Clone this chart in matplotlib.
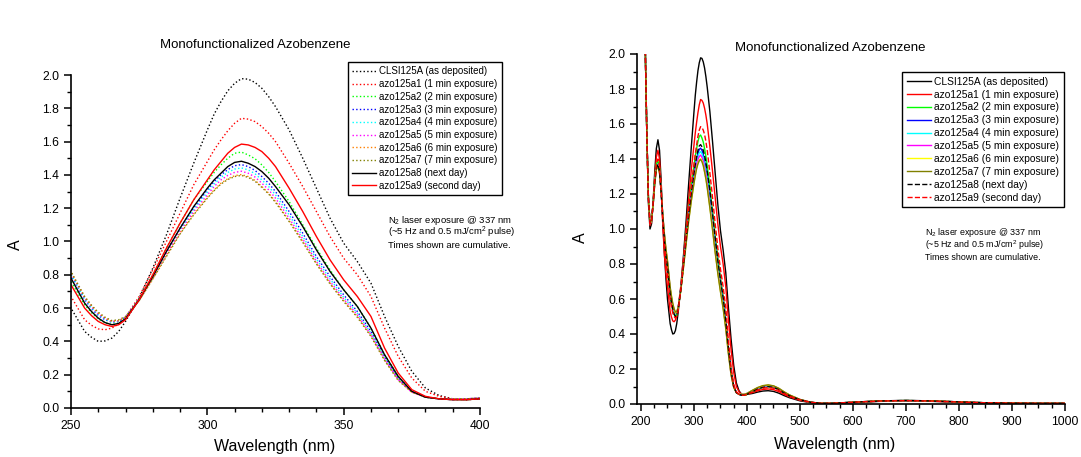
import matplotlib
matplotlib.use('Agg')
import matplotlib.pyplot as plt
from matplotlib.ticker import MultipleLocator

plt.rcParams['font.family'] = ['Liberation Sans', 'DejaVu Sans']
plt.rcParams['mathtext.fontset'] = 'custom'
plt.rcParams['mathtext.rm'] = 'Liberation Sans'
plt.rcParams['mathtext.it'] = 'Liberation Sans'

# wavelength grid (nm)
wl = [205, 208, 211, 214, 217, 220, 223, 226, 229, 232, 235, 238, 241, 244, 247,
      250, 255, 257.5, 260, 262.5, 265, 267.5, 270,
      275, 280, 285, 290, 295, 300,
      302.5, 305, 307.5, 310, 312.5, 315, 317.5, 320, 322.5, 325,
      330, 335, 340, 345, 350, 355, 360, 365, 370, 375, 380, 385, 390, 395, 400,
      410, 420, 430, 440, 450, 460, 470, 480, 500, 520, 540, 560, 600, 650, 700,
      750, 800, 850, 900, 950, 1000]

labels = ['CLSI125A (as deposited)', 'azo125a1 (1 min exposure)', 'azo125a2 (2 min exposure)',
          'azo125a3 (3 min exposure)', 'azo125a4 (4 min exposure)', 'azo125a5 (5 min exposure)',
          'azo125a6 (6 min exposure)', 'azo125a7 (7 min exposure)', 'azo125a8 (next day)',
          'azo125a9 (second day)']

clsi = [2.60, 2.05, 1.55, 1.15, 1.00, 1.03, 1.16, 1.33, 1.46, 1.51, 1.45, 1.28, 1.06, 0.87, 0.72,
        0.60, 0.46, 0.425, 0.40, 0.403, 0.42, 0.46, 0.52,
        0.66, 0.84, 1.04, 1.26, 1.47, 1.67,
        1.765, 1.84, 1.905, 1.95, 1.978, 1.975, 1.955, 1.92, 1.87, 1.81,
        1.67, 1.50, 1.32, 1.14, 0.99, 0.88, 0.75, 0.55, 0.37, 0.22, 0.12, 0.075, 0.055, 0.05, 0.055,
        0.06, 0.068, 0.074, 0.076, 0.072, 0.062, 0.048, 0.036, 0.018, 0.008, 0.003, 0.003, 0.008, 0.015,
        0.018, 0.015, 0.010, 0.006, 0.004, 0.003, 0.003]
a1 = [2.60, 2.05, 1.55, 1.17, 1.02, 1.04, 1.15, 1.30, 1.41, 1.45, 1.40, 1.24, 1.03, 0.86, 0.75,
      0.67, 0.53, 0.497, 0.475, 0.47, 0.48, 0.505, 0.545,
      0.67, 0.83, 1.00, 1.17, 1.34, 1.48,
      1.55, 1.61, 1.665, 1.71, 1.74, 1.735, 1.72, 1.69, 1.65, 1.60,
      1.47, 1.33, 1.18, 1.03, 0.90, 0.80, 0.67, 0.48, 0.31, 0.18, 0.10, 0.07, 0.055, 0.05, 0.055,
      0.065, 0.075, 0.083, 0.086, 0.082, 0.071, 0.055, 0.041, 0.021, 0.009, 0.003, 0.003, 0.009, 0.016,
      0.019, 0.016, 0.011, 0.006, 0.004, 0.003, 0.003]
a2 = [2.60, 2.05, 1.55, 1.18, 1.03, 1.05, 1.15, 1.29, 1.37, 1.39, 1.35, 1.23, 1.08, 0.95, 0.84,
      0.76, 0.62, 0.573, 0.535, 0.512, 0.50, 0.51, 0.54,
      0.655, 0.80, 0.96, 1.11, 1.25, 1.36,
      1.415, 1.46, 1.50, 1.53, 1.537, 1.52, 1.497, 1.46, 1.415, 1.36,
      1.24, 1.10, 0.96, 0.83, 0.71, 0.61, 0.48, 0.32, 0.19, 0.10, 0.065, 0.055, 0.05, 0.05, 0.055,
      0.07, 0.085, 0.096, 0.100, 0.096, 0.083, 0.064, 0.048, 0.024, 0.010, 0.004, 0.004, 0.010, 0.017,
      0.020, 0.017, 0.012, 0.007, 0.005, 0.004, 0.004]
a3 = [2.60, 2.05, 1.55, 1.18, 1.03, 1.05, 1.14, 1.27, 1.35, 1.37, 1.33, 1.22, 1.08, 0.97, 0.87,
      0.80, 0.65, 0.598, 0.555, 0.53, 0.515, 0.52, 0.545,
      0.655, 0.79, 0.94, 1.08, 1.20, 1.31,
      1.36, 1.40, 1.432, 1.455, 1.462, 1.45, 1.427, 1.39, 1.35, 1.30,
      1.18, 1.05, 0.91, 0.79, 0.68, 0.58, 0.46, 0.31, 0.18, 0.10, 0.065, 0.055, 0.05, 0.055, 0.06,
      0.075, 0.09, 0.10, 0.105, 0.10, 0.086, 0.066, 0.05, 0.025, 0.01, 0.004, 0.004, 0.01, 0.018,
      0.02, 0.018, 0.012, 0.007, 0.005, 0.004, 0.004]
a4 = [2.60, 2.05, 1.55, 1.18, 1.03, 1.05, 1.14, 1.27, 1.35, 1.37, 1.33, 1.22, 1.08, 0.97, 0.875,
      0.805, 0.655, 0.603, 0.56, 0.533, 0.515, 0.521, 0.545,
      0.65, 0.785, 0.93, 1.07, 1.19, 1.295,
      1.345, 1.385, 1.415, 1.435, 1.442, 1.43, 1.407, 1.37, 1.33, 1.28,
      1.16, 1.03, 0.895, 0.775, 0.665, 0.57, 0.45, 0.30, 0.175, 0.10, 0.065, 0.055, 0.055, 0.055, 0.06,
      0.075, 0.09, 0.10, 0.106, 0.10, 0.087, 0.067, 0.05, 0.025, 0.01, 0.004, 0.004, 0.01, 0.018,
      0.02, 0.018, 0.012, 0.007, 0.005, 0.004, 0.004]
a5 = [2.60, 2.05, 1.55, 1.18, 1.03, 1.05, 1.14, 1.26, 1.34, 1.36, 1.32, 1.22, 1.08, 0.97, 0.88,
      0.81, 0.66, 0.608, 0.565, 0.538, 0.52, 0.524, 0.545,
      0.65, 0.78, 0.925, 1.06, 1.18, 1.28,
      1.33, 1.37, 1.397, 1.415, 1.422, 1.41, 1.387, 1.35, 1.31, 1.26,
      1.14, 1.015, 0.88, 0.76, 0.655, 0.56, 0.44, 0.295, 0.17, 0.095, 0.065, 0.055, 0.055, 0.055, 0.06,
      0.076, 0.092, 0.102, 0.107, 0.102, 0.088, 0.068, 0.051, 0.026, 0.01, 0.004, 0.004, 0.01, 0.018,
      0.02, 0.018, 0.012, 0.007, 0.005, 0.004, 0.004]
a6 = [2.60, 2.05, 1.55, 1.18, 1.03, 1.05, 1.14, 1.26, 1.34, 1.36, 1.32, 1.22, 1.08, 0.975, 0.885,
      0.815, 0.665, 0.613, 0.57, 0.54, 0.52, 0.525, 0.545,
      0.645, 0.775, 0.915, 1.05, 1.165, 1.265,
      1.31, 1.35, 1.377, 1.395, 1.402, 1.39, 1.367, 1.33, 1.29, 1.24,
      1.125, 1.00, 0.87, 0.75, 0.645, 0.55, 0.435, 0.29, 0.17, 0.095, 0.065, 0.055, 0.055, 0.055, 0.06,
      0.077, 0.093, 0.104, 0.108, 0.103, 0.089, 0.069, 0.052, 0.026, 0.01, 0.004, 0.004, 0.01, 0.018,
      0.02, 0.018, 0.012, 0.007, 0.005, 0.004, 0.004]
a7 = [2.60, 2.05, 1.55, 1.18, 1.03, 1.05, 1.14, 1.26, 1.34, 1.36, 1.32, 1.22, 1.09, 0.98, 0.89,
      0.82, 0.67, 0.618, 0.575, 0.545, 0.525, 0.53, 0.55,
      0.645, 0.775, 0.91, 1.045, 1.16, 1.26,
      1.305, 1.345, 1.372, 1.39, 1.397, 1.385, 1.362, 1.325, 1.285, 1.235,
      1.12, 0.995, 0.865, 0.745, 0.64, 0.545, 0.43, 0.285, 0.165, 0.095, 0.065, 0.055, 0.055, 0.055, 0.06,
      0.078, 0.094, 0.105, 0.109, 0.104, 0.09, 0.07, 0.052, 0.026, 0.01, 0.004, 0.004, 0.01, 0.018,
      0.02, 0.018, 0.012, 0.007, 0.005, 0.004, 0.004]
a8 = [2.60, 2.05, 1.55, 1.18, 1.03, 1.05, 1.15, 1.27, 1.35, 1.37, 1.33, 1.21, 1.06, 0.94, 0.85,
      0.78, 0.63, 0.58, 0.54, 0.513, 0.50, 0.508, 0.535,
      0.65, 0.79, 0.94, 1.08, 1.21, 1.32,
      1.37, 1.41, 1.45, 1.475, 1.482, 1.47, 1.45, 1.42, 1.38, 1.33,
      1.22, 1.09, 0.95, 0.82, 0.71, 0.61, 0.48, 0.32, 0.19, 0.10, 0.065, 0.055, 0.05, 0.05, 0.055,
      0.07, 0.085, 0.095, 0.099, 0.095, 0.082, 0.063, 0.047, 0.024, 0.01, 0.004, 0.004, 0.01, 0.017,
      0.02, 0.017, 0.012, 0.007, 0.005, 0.004, 0.004]
a9 = [2.60, 2.05, 1.55, 1.18, 1.03, 1.05, 1.15, 1.28, 1.37, 1.40, 1.36, 1.23, 1.06, 0.92, 0.82,
      0.74, 0.60, 0.555, 0.52, 0.50, 0.49, 0.50, 0.53,
      0.65, 0.80, 0.96, 1.11, 1.25, 1.37,
      1.43, 1.48, 1.53, 1.565, 1.585, 1.58, 1.565, 1.54, 1.50, 1.45,
      1.32, 1.18, 1.03, 0.89, 0.77, 0.67, 0.55, 0.36, 0.21, 0.11, 0.07, 0.055, 0.05, 0.05, 0.055,
      0.068, 0.08, 0.09, 0.094, 0.09, 0.078, 0.06, 0.045, 0.023, 0.01, 0.004, 0.004, 0.01, 0.017,
      0.019, 0.017, 0.011, 0.007, 0.005, 0.004, 0.004]

spectra = [clsi, a1, a2, a3, a4, a5, a6, a7, a8, a9]

left_colors = ['black', '#ff0000', '#00ff00', '#0000ff', '#00ffff', '#ff00ff', '#ff8000', '#808000',
               'black', '#ff0000']
left_styles = [':', ':', ':', ':', ':', ':', ':', ':', '-', '-']
right_colors = ['black', '#ff0000', '#00ff00', '#0000ff', '#00ffff', '#ff00ff', '#ffff00', '#808000',
                'black', '#ff0000']
right_styles = ['-', '-', '-', '-', '-', '-', '-', '-', '--', '--']

W, H = 1081, 457
fig = plt.figure(figsize=(W / 100, H / 100), dpi=100)
ax1 = fig.add_axes([71 / W, 1 - 408 / H, (480 - 71) / W, (408 - 75) / H])
ax2 = fig.add_axes([637 / W, 1 - 404 / H, (1065 - 637) / W, (404 - 54) / H])


def style_axis(ax):
    for s in ['top', 'right']:
        ax.spines[s].set_visible(False)
    for s in ['left', 'bottom']:
        ax.spines[s].set_linewidth(1.2)
    ax.tick_params(which='major', direction='out', length=5, width=1.1, labelsize=8.7)
    ax.tick_params(which='minor', direction='out', length=3, width=1.0)
    ax.set_ylim(0, 2.0)
    ax.yaxis.set_major_locator(MultipleLocator(0.2))
    ax.yaxis.set_minor_locator(MultipleLocator(0.1))
    ax.yaxis.set_major_formatter(plt.FuncFormatter(lambda v, p: f'{v:.1f}'))


# left panel: zoom on the main band
for y, c, ls, lab in zip(spectra, left_colors, left_styles, labels):
    ax1.plot(wl, y, color=c, linestyle=ls, lw=1.0, label=lab)
style_axis(ax1)
ax1.set_xlim(250, 400)
ax1.xaxis.set_major_locator(MultipleLocator(50))
ax1.xaxis.set_minor_locator(MultipleLocator(10))

# right panel: full range
for y, c, ls, lab in zip(spectra, right_colors, right_styles, labels):
    ax2.plot(wl, y, color=c, linestyle=ls, lw=1.0, label=lab)
style_axis(ax2)
ax2.set_xlim(192.5, 1000)
ax2.xaxis.set_major_locator(MultipleLocator(100))
ax2.xaxis.set_minor_locator(MultipleLocator(25))

leg1 = ax1.legend(loc='upper left', bbox_to_anchor=(348 / W, 1 - 62 / H), bbox_transform=fig.transFigure,
                  fontsize=7, fancybox=False, framealpha=1, edgecolor='black', borderaxespad=0,
                  handlelength=2.4, handletextpad=0.3, labelspacing=0.28, borderpad=0.45)
leg1.get_frame().set_linewidth(1.0)
leg2 = ax2.legend(loc='upper left', bbox_to_anchor=(902 / W, 1 - 72 / H), bbox_transform=fig.transFigure,
                  fontsize=7.4, fancybox=False, framealpha=1, edgecolor='black', borderaxespad=0,
                  handlelength=2.4, handletextpad=0.3, labelspacing=0.28, borderpad=0.45)
leg2.get_frame().set_linewidth(1.0)

note = ['N$_2$ laser exposure @ 337 nm', '(~5 Hz and 0.5 mJ/cm$^2$ pulse)', 'Times shown are cumulative.']
for i, line in enumerate(note):
    fig.text(388 / W, 1 - (220 + 12.5 * i) / H, line, fontsize=6.8, va='center', ha='left')
    fig.text(925 / W, 1 - (233 + 12 * i) / H, line, fontsize=6.4, va='center', ha='left')

fig.text(255 / W, 1 - 45 / H, 'Monofunctionalized Azobenzene', fontsize=9.5, ha='center', va='center')
fig.text(830 / W, 1 - 48 / H, 'Monofunctionalized Azobenzene', fontsize=9.5, ha='center', va='center')
fig.text(275 / W, 1 - 447 / H, 'Wavelength (nm)', fontsize=11.5, ha='center', va='center')
fig.text(835 / W, 1 - 445 / H, 'Wavelength (nm)', fontsize=11.5, ha='center', va='center')
fig.text(15 / W, 1 - 245 / H, 'A', fontsize=11.5, ha='center', va='center', rotation=90)
fig.text(580 / W, 1 - 238 / H, 'A', fontsize=11.5, ha='center', va='center', rotation=90)

fig.savefig('out.png', dpi=100)
